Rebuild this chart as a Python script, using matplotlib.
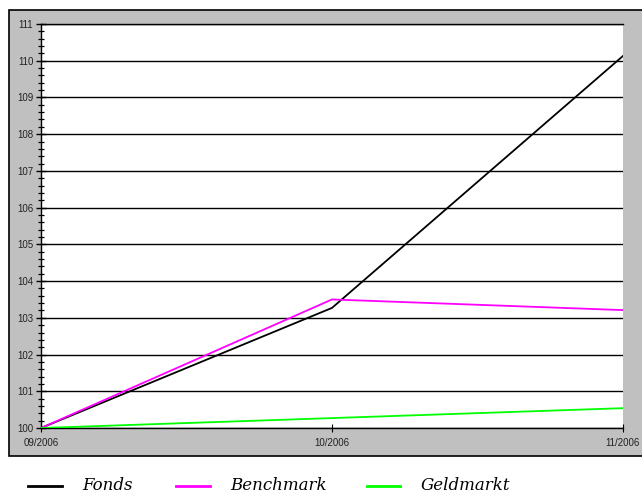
import numpy as np
import matplotlib.pyplot as plt
from matplotlib.patches import Rectangle
from matplotlib.lines import Line2D
from matplotlib.ticker import MultipleLocator

# Daten
monate = ['09/2006', '10/2006', '11/2006']
fonds = [100.0, 103.27, 110.13]
benchmark = [100.0, 103.50, 103.21]
geldmarkt = [100.0, 100.27, 100.54]
namen = ['Fonds', 'Benchmark', 'Geldmarkt']
farben = ['black', '#ff00ff', '#00ff00']

W, H = 642, 503
fig = plt.figure(figsize=(W/100, H/100), dpi=100)

# grauer Rahmen
fig.patches.append(Rectangle((9/W, (H-456)/H), (W+5-9)/W, (456-10)/H,
                             transform=fig.transFigure, facecolor='#c0c0c0',
                             edgecolor='black', lw=1.2, zorder=-10))

ax = fig.add_axes([41/W, (H-428)/H, (623-41)/W, (428-24)/H])
ax.set_facecolor('white')
x = np.arange(len(monate))
for werte, name, farbe in zip([fonds, benchmark, geldmarkt], namen, farben):
    ax.plot(x, werte, color=farbe, lw=1.3, label=name, zorder=3)

ax.set_xlim(0, 2)
ax.set_ylim(100, 111)
ax.set_xticks(x)
ax.set_xticklabels(monate, fontsize=7, family='Liberation Sans', color='#222222')
ax.yaxis.set_major_locator(MultipleLocator(1))
ax.yaxis.set_minor_locator(MultipleLocator(0.2))
for lab in ax.get_yticklabels():
    lab.set_family('Liberation Sans')
    lab.set_fontsize(7)
    lab.set_color('#222222')
ax.tick_params(axis='y', which='major', direction='inout', length=7, width=1, pad=2)
ax.tick_params(axis='y', which='minor', direction='inout', length=5, width=0.9)
ax.tick_params(axis='x', which='major', direction='inout', length=6, width=0.8, pad=4)
ax.grid(axis='y', color='black', lw=1)
ax.spines['right'].set_visible(False)
for s in ['top', 'left', 'bottom']:
    ax.spines[s].set_linewidth(1)

# Legende von Hand
yl = (H-486)/H
for (x0, x1, xt), name, farbe in zip([(28, 62, 82), (176, 210, 230), (367, 400, 421)],
                                      namen, farben):
    fig.lines.append(Line2D([x0/W, x1/W], [yl, yl], transform=fig.transFigure,
                            color=farbe, lw=2))
    fig.text(xt/W, yl, name, family='DejaVu Serif', style='italic', fontsize=12,
             va='center', ha='left')

fig.savefig('out.png', dpi=100)
